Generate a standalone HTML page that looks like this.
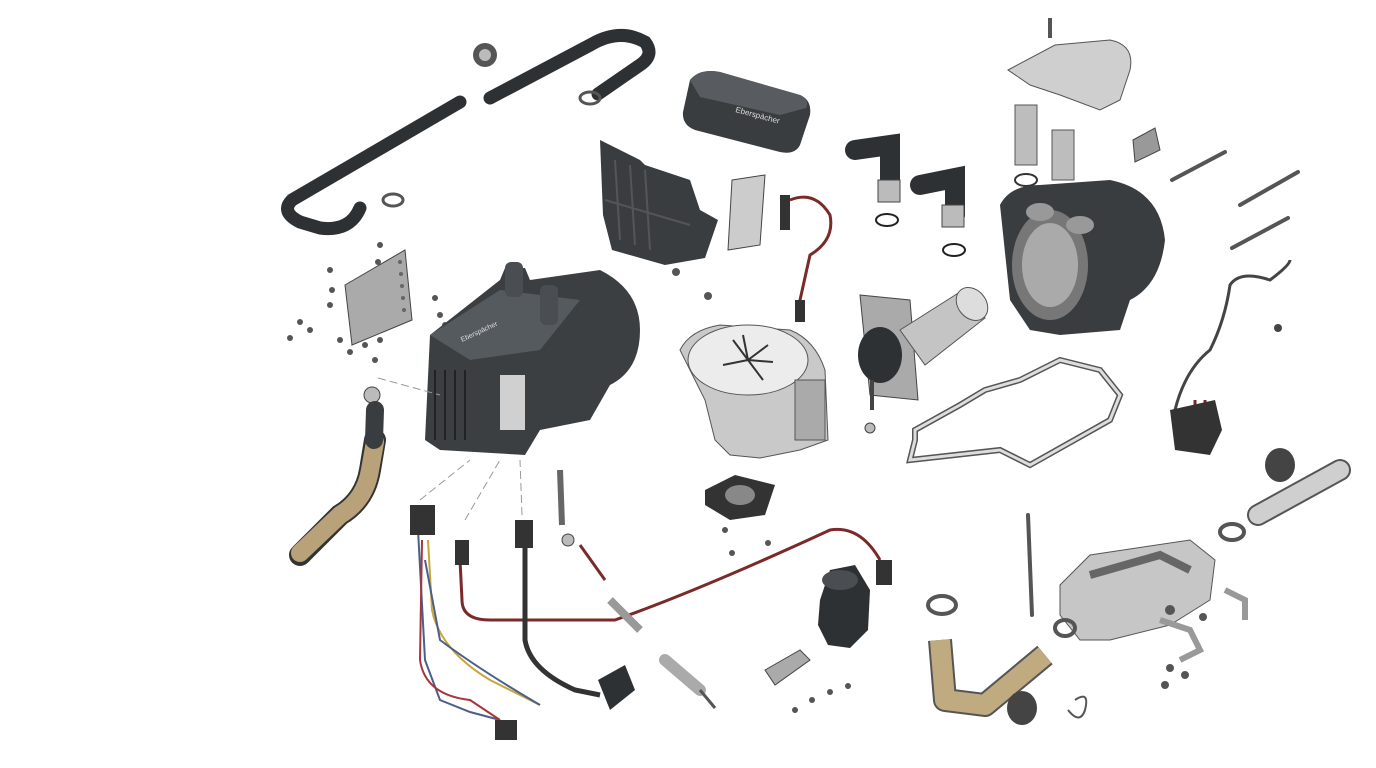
<!DOCTYPE html>
<html><head><meta charset="utf-8"><style>
html,body{margin:0;padding:0;background:#fff;width:1376px;height:768px;overflow:hidden}
svg{display:block}
</style></head><body>
<svg width="1376" height="768" viewBox="0 0 1376 768" xmlns="http://www.w3.org/2000/svg" font-family="Liberation Sans, sans-serif">
<!-- hose loop top-left -->
<path d="M360,208 Q350,232 320,228 L300,222 Q280,212 292,200 L460,102" fill="none" stroke="#2e3133" stroke-width="13" stroke-linecap="round"/>
<path d="M490,98 L592,44 Q620,28 645,42 Q655,55 640,65 L598,94" fill="none" stroke="#2e3133" stroke-width="13" stroke-linecap="round"/>
<circle cx="485" cy="55" r="12" fill="#555"/><circle cx="485" cy="55" r="6" fill="#bbb"/>
<ellipse cx="590" cy="98" rx="10" ry="6" fill="none" stroke="#555" stroke-width="3"/>
<ellipse cx="393" cy="200" rx="10" ry="6" fill="none" stroke="#555" stroke-width="3"/>
<!-- bracket left -->
<polygon points="345,285 405,250 412,320 352,345" fill="#aaa" stroke="#444"/>
<g fill="#666"><circle cx="400" cy="262" r="2"/><circle cx="401" cy="274" r="2"/><circle cx="402" cy="286" r="2"/><circle cx="403" cy="298" r="2"/><circle cx="404" cy="310" r="2"/></g>
<g fill="#555">
<circle cx="330" cy="270" r="3"/><circle cx="332" cy="290" r="3"/><circle cx="330" cy="305" r="3"/><circle cx="300" cy="322" r="3"/><circle cx="310" cy="330" r="3"/><circle cx="290" cy="338" r="3"/><circle cx="340" cy="340" r="3"/><circle cx="350" cy="352" r="3"/><circle cx="365" cy="345" r="3"/><circle cx="380" cy="340" r="3"/><circle cx="375" cy="360" r="3"/><circle cx="435" cy="298" r="3"/><circle cx="440" cy="315" r="3"/><circle cx="445" cy="325" r="3"/><circle cx="380" cy="245" r="3"/><circle cx="378" cy="262" r="3"/>
</g>
<circle cx="372" cy="395" r="8" fill="#bbb" stroke="#444"/>
<!-- tan hose left -->
<path d="M375,440 L370,470 Q365,500 340,515 L300,555" fill="none" stroke="#333" stroke-width="22" stroke-linecap="round"/>
<path d="M375,442 L370,470 Q365,500 340,515 L300,553" fill="none" stroke="#b9a27a" stroke-width="18" stroke-linecap="round"/>
<path d="M375,410 L374,440" stroke="#3a3d40" stroke-width="18" stroke-linecap="round"/>
<!-- main heater -->
<path d="M430,335 L500,280 L505,268 L525,268 L530,280 L600,270 Q640,290 640,330 Q640,370 610,385 L590,420 L540,430 L525,455 L440,450 L425,440 Z" fill="#3b3f42"/>
<path d="M430,335 L500,290 L580,300 L540,350 L470,360 Z" fill="#555a5e"/>
<rect x="500" y="375" width="25" height="55" fill="#d0d0d0"/>
<g stroke="#222" stroke-width="2"><line x1="435" y1="370" x2="435" y2="440"/><line x1="445" y1="370" x2="445" y2="440"/><line x1="455" y1="370" x2="455" y2="440"/><line x1="465" y1="370" x2="465" y2="440"/></g>
<rect x="505" y="262" width="18" height="35" rx="6" fill="#4a4e52"/>
<rect x="540" y="285" width="18" height="40" rx="6" fill="#4a4e52"/>
<text x="462" y="342" fill="#ddd" font-size="7" transform="rotate(-25 462 342)">Eberspächer</text>
<!-- bracket housing -->
<path d="M600,140 L640,160 L645,165 L690,180 L700,210 L718,220 L705,258 L665,265 L612,250 L603,215 Z" fill="#3a3d40"/>
<g stroke="#555" stroke-width="2"><line x1="615" y1="160" x2="620" y2="240"/><line x1="630" y1="165" x2="635" y2="245"/><line x1="645" y1="170" x2="650" y2="250"/><line x1="605" y1="200" x2="690" y2="225"/></g>
<!-- cover -->
<path d="M690,80 Q700,68 720,72 L800,95 Q812,100 810,115 L800,145 Q795,155 780,152 L695,130 Q682,125 683,112 Z" fill="#3a3d40"/>
<path d="M690,80 Q700,68 720,72 L800,95 Q810,100 806,108 L780,115 L700,97 Z" fill="#585c60"/>
<text x="735" y="112" fill="#ddd" font-size="8" transform="rotate(15 735 112)">Eberspächer</text>
<!-- small plate -->
<polygon points="732,180 765,175 760,245 728,250" fill="#ccc" stroke="#444"/>
<!-- wire harness middle -->
<path d="M790,200 Q815,190 830,215 Q835,240 810,255 L800,300 L800,320" fill="none" stroke="#7a2a28" stroke-width="3"/>
<rect x="780" y="195" width="10" height="35" fill="#333"/>
<rect x="795" y="300" width="10" height="22" fill="#333"/>
<circle cx="676" cy="272" r="4" fill="#555"/><circle cx="708" cy="296" r="4" fill="#555"/>
<!-- blower -->
<path d="M680,350 Q690,330 720,325 L790,330 Q815,340 825,370 L828,440 L800,450 L760,458 L730,455 L715,440 L705,400 Z" fill="#c9c9c9" stroke="#555"/>
<ellipse cx="748" cy="360" rx="60" ry="35" fill="#ececec" stroke="#555"/>
<path d="M748,360 l-15,-20 M748,360 l20,-15 M748,360 l-25,5 M748,360 l15,20 M748,360 l25,2 M748,360 l-5,-25" stroke="#333" stroke-width="2"/>
<rect x="795" y="380" width="30" height="60" fill="#aaa" stroke="#555"/>
<!-- small motor mount -->
<path d="M705,490 L735,475 L775,485 L765,515 L730,520 L705,505 Z" fill="#333"/>
<ellipse cx="740" cy="495" rx="15" ry="10" fill="#888"/>
<circle cx="725" cy="530" r="3" fill="#555"/><circle cx="732" cy="553" r="3" fill="#555"/><circle cx="768" cy="543" r="3" fill="#555"/>
<!-- elbows -->
<path d="M855,150 L890,145 L890,190" fill="none" stroke="#2e3133" stroke-width="20" stroke-linecap="round"/>
<rect x="878" y="180" width="22" height="22" fill="#bbb" stroke="#444"/>
<path d="M920,185 L955,178 L955,215" fill="none" stroke="#2e3133" stroke-width="20" stroke-linecap="round"/>
<rect x="942" y="205" width="22" height="22" fill="#bbb" stroke="#444"/>
<ellipse cx="887" cy="220" rx="11" ry="6" fill="none" stroke="#222" stroke-width="2"/>
<ellipse cx="954" cy="250" rx="11" ry="6" fill="none" stroke="#222" stroke-width="2"/>
<!-- motor -->
<polygon points="860,295 910,300 918,400 870,395" fill="#aaa" stroke="#444"/>
<path d="M900,330 L960,292 L985,318 L925,365 Z" fill="#c4c4c4" stroke="#555"/>
<ellipse cx="972" cy="304" rx="14" ry="18" fill="#ddd" stroke="#555" transform="rotate(-40 972 304)"/>
<ellipse cx="880" cy="355" rx="22" ry="28" fill="#2e3133"/>
<line x1="872" y1="380" x2="872" y2="410" stroke="#444" stroke-width="4"/>
<circle cx="870" cy="428" r="5" fill="#bbb" stroke="#444"/>
<!-- gasket -->
<path d="M915,440 L910,460 L1000,450 L1030,465 L1110,420 L1120,395 L1100,370 L1060,360 L1020,380 L985,390 L960,405 L915,430 Z" fill="none" stroke="#555" stroke-width="6"/>
<path d="M915,440 L910,460 L1000,450 L1030,465 L1110,420 L1120,395 L1100,370 L1060,360 L1020,380 L985,390 L960,405 L915,430 Z" fill="none" stroke="#ddd" stroke-width="3"/>
<!-- top plate -->
<path d="M1008,70 L1055,45 L1110,40 Q1135,45 1130,70 L1120,100 L1100,110 L1060,95 L1030,85 Z" fill="#cfcfcf" stroke="#555"/>
<line x1="1050" y1="18" x2="1050" y2="38" stroke="#555" stroke-width="4"/>
<!-- tubes -->
<rect x="1015" y="105" width="22" height="60" fill="#bdbdbd" stroke="#555"/>
<rect x="1052" y="130" width="22" height="50" fill="#bdbdbd" stroke="#555"/>
<ellipse cx="1026" cy="180" rx="11" ry="6" fill="none" stroke="#333" stroke-width="2"/>
<polygon points="1133,140 1155,128 1160,150 1135,162" fill="#999" stroke="#444"/>
<!-- right housing -->
<path d="M1000,205 Q1010,185 1040,185 L1110,180 Q1160,190 1165,240 Q1160,285 1130,300 L1120,330 L1060,335 L1030,330 L1010,300 Z" fill="#3a3d40"/>
<ellipse cx="1050" cy="265" rx="38" ry="55" fill="#777"/>
<ellipse cx="1050" cy="265" rx="28" ry="42" fill="#aaa"/>
<ellipse cx="1040" cy="212" rx="14" ry="9" fill="#999"/><ellipse cx="1080" cy="225" rx="14" ry="9" fill="#999"/>
<!-- bolts -->
<g stroke="#555" stroke-width="4" stroke-linecap="round">
<line x1="1172" y1="180" x2="1225" y2="152"/><line x1="1240" y1="205" x2="1298" y2="172"/><line x1="1232" y1="248" x2="1288" y2="218"/>
<line x1="1028" y1="515" x2="1032" y2="615"/>
</g>
<!-- right harness -->
<path d="M1175,410 Q1185,370 1210,350 Q1225,320 1230,285 Q1240,270 1270,280 Q1290,265 1290,260" fill="none" stroke="#444" stroke-width="3"/>
<path d="M1195,400 L1195,430 M1205,400 L1205,430" stroke="#7a2a28" stroke-width="3"/>
<path d="M1170,410 L1215,400 L1222,430 L1210,455 L1175,450 Z" fill="#333"/>
<circle cx="1278" cy="328" r="4" fill="#444"/>
<!-- pipe right -->
<path d="M1258,515 L1340,470" stroke="#555" stroke-width="22" stroke-linecap="round"/>
<path d="M1258,515 L1340,470" stroke="#cfcfcf" stroke-width="18" stroke-linecap="round"/>
<ellipse cx="1280" cy="465" rx="15" ry="17" fill="#444"/>
<ellipse cx="1232" cy="532" rx="12" ry="8" fill="none" stroke="#555" stroke-width="4"/>
<!-- muffler -->
<path d="M1060,585 L1090,555 L1190,540 L1215,560 L1210,600 L1170,625 L1110,640 L1080,640 L1060,615 Z" fill="#c6c6c6" stroke="#555"/>
<path d="M1090,575 L1160,555 L1190,570" fill="none" stroke="#666" stroke-width="8"/>
<ellipse cx="1065" cy="628" rx="10" ry="8" fill="none" stroke="#555" stroke-width="4"/>
<path d="M1160,620 L1190,630 L1200,650 L1180,660" fill="none" stroke="#999" stroke-width="6"/>
<path d="M1225,590 L1245,600 L1245,620" fill="none" stroke="#999" stroke-width="6"/>
<!-- flex hose bottom -->
<path d="M940,640 L945,700 L985,705 L1045,655" fill="none" stroke="#555" stroke-width="24" stroke-linejoin="round"/>
<path d="M940,640 L945,700 L985,705 L1045,655" fill="none" stroke="#c0ab80" stroke-width="20" stroke-linejoin="round"/>
<ellipse cx="942" cy="605" rx="14" ry="9" fill="none" stroke="#555" stroke-width="4"/>
<ellipse cx="1022" cy="708" rx="15" ry="17" fill="#444"/>
<path d="M1075,700 Q1090,690 1085,710 Q1080,725 1068,710" fill="none" stroke="#555" stroke-width="2"/>
<!-- wires bottom -->
<path d="M460,560 L462,600 Q462,620 490,620 L615,620 Q700,590 830,530 Q860,525 880,560" fill="none" stroke="#7a2a28" stroke-width="3"/>
<path d="M525,545 L525,640 Q530,670 575,690 L600,695" fill="none" stroke="#333" stroke-width="5"/>
<path d="M418,530 L425,660 L440,700 L470,712 L500,720" fill="none" stroke="#4a5f8a" stroke-width="2"/>
<path d="M422,540 L420,660 Q425,695 470,700 L500,720" fill="none" stroke="#a6363a" stroke-width="2"/>
<path d="M428,540 L432,610 Q440,650 490,680 L540,705" fill="none" stroke="#c9a53a" stroke-width="2"/>
<path d="M425,560 L440,640 Q480,670 540,705" fill="none" stroke="#4a5f8a" stroke-width="2"/>
<rect x="410" y="505" width="25" height="30" fill="#333"/>
<rect x="455" y="540" width="14" height="25" fill="#333"/>
<rect x="515" y="520" width="18" height="28" fill="#333"/>
<rect x="495" y="720" width="22" height="20" fill="#333"/>
<rect x="876" y="560" width="16" height="25" fill="#333"/>
<line x1="560" y1="470" x2="562" y2="525" stroke="#666" stroke-width="6"/>
<circle cx="568" cy="540" r="6" fill="#bbb" stroke="#444"/>
<path d="M580,545 L605,580" stroke="#7a2a28" stroke-width="3"/>
<line x1="610" y1="600" x2="640" y2="630" stroke="#999" stroke-width="8"/>
<path d="M598,680 L625,665 L635,690 L610,710 Z" fill="#2e3133"/>
<path d="M665,660 L700,690" stroke="#aaa" stroke-width="12" stroke-linecap="round"/>
<line x1="700" y1="690" x2="715" y2="708" stroke="#555" stroke-width="3"/>
<!-- pump -->
<path d="M820,600 L830,570 L855,565 L870,590 L868,630 L850,648 L828,645 L818,625 Z" fill="#2e3133"/>
<ellipse cx="840" cy="580" rx="18" ry="10" fill="#4a4e52"/>
<!-- pump bracket -->
<polygon points="765,670 800,650 810,660 775,685" fill="#aaa" stroke="#444"/>
<g fill="#555"><circle cx="795" cy="710" r="3"/><circle cx="812" cy="700" r="3"/><circle cx="830" cy="692" r="3"/><circle cx="848" cy="686" r="3"/></g>
<g fill="#555"><circle cx="1170" cy="668" r="4"/><circle cx="1165" cy="685" r="4"/><circle cx="1185" cy="675" r="4"/><circle cx="1203" cy="617" r="4"/><circle cx="1170" cy="610" r="5"/></g>
<!-- dashed lead lines -->
<g stroke="#999" stroke-dasharray="8 4" fill="none"><line x1="378" y1="378" x2="440" y2="395"/><line x1="420" y1="500" x2="470" y2="460"/><line x1="465" y1="520" x2="500" y2="460"/><line x1="522" y1="515" x2="520" y2="460"/></g>
</svg>
</body></html>
